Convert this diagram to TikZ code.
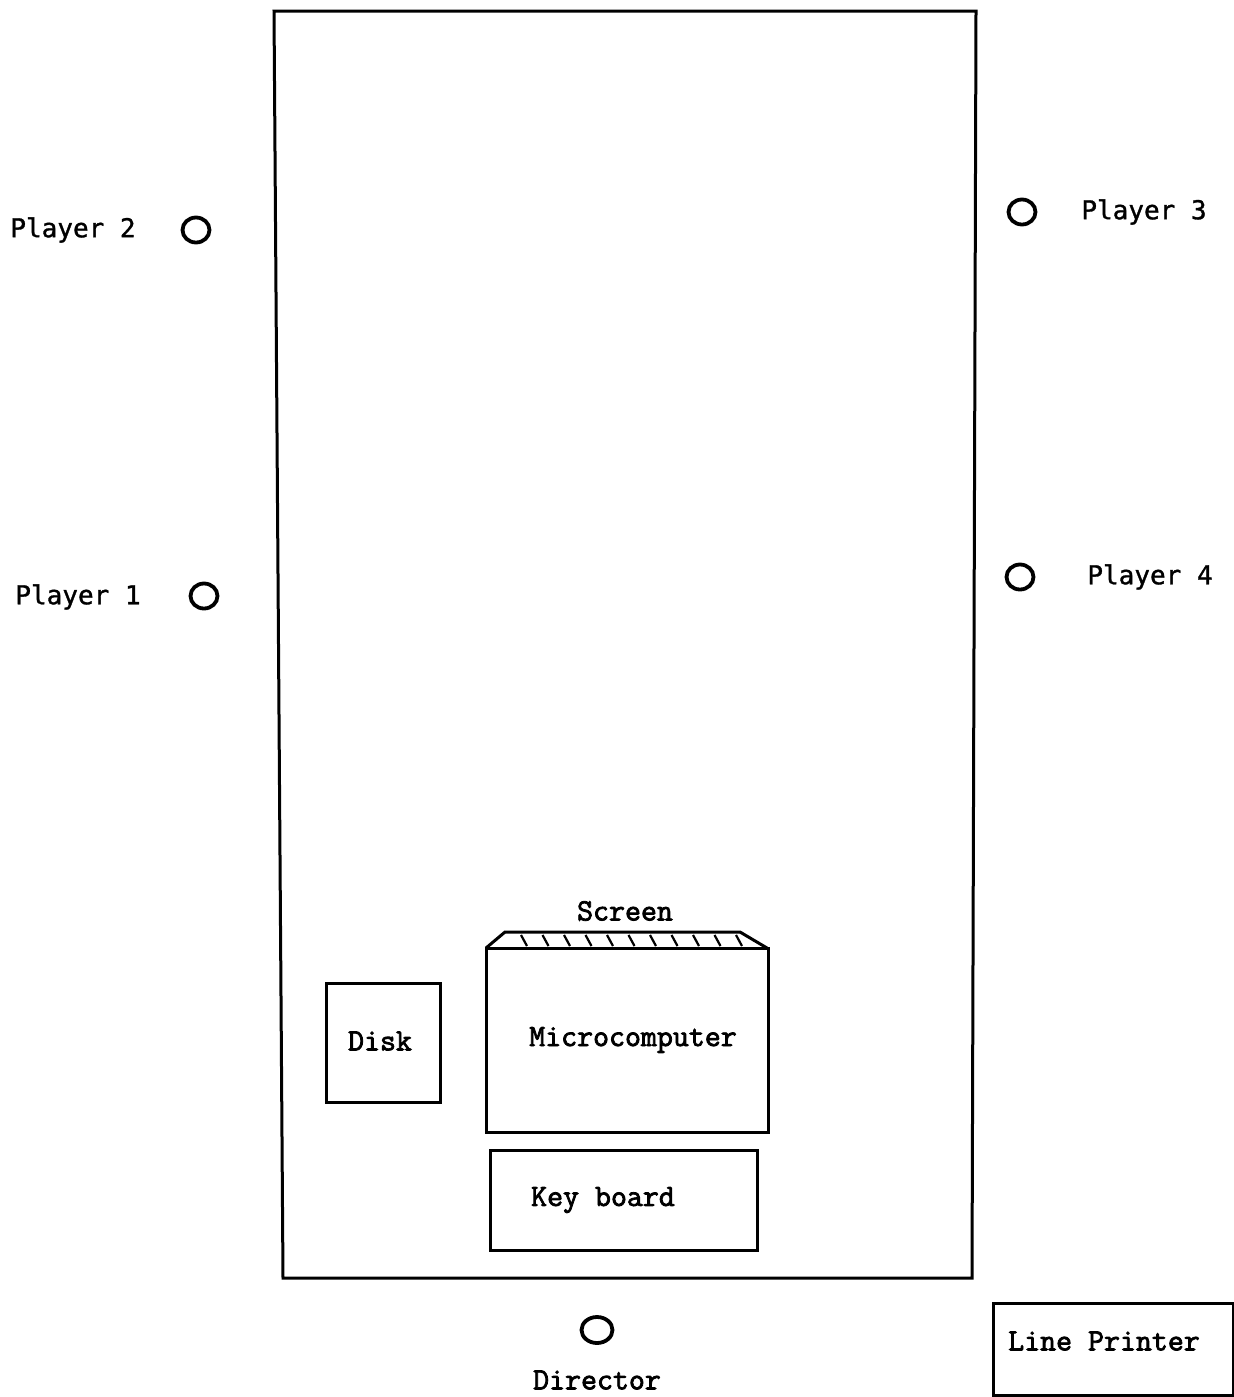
\documentclass[tikz,border=0pt]{standalone}
\usepackage{fontspec}
\usetikzlibrary{shapes.geometric}
\newfontfamily\labelsans{DejaVu Sans Mono}[FakeBold=1.2]
\newfontfamily\labelslab{Latin Modern Mono}[FakeBold=2.5]
\begin{document}
\begin{tikzpicture}[x=0.5pt,y=-0.5pt,
  outline/.style={draw=black,line width=1.5pt},
  seat/.style={ellipse,draw=black,line width=1.9pt,minimum width=13.5pt,minimum height=12.5pt,inner sep=0pt},
  playerlbl/.style={font=\labelsans\fontsize{13}{15}\selectfont,anchor=west,inner sep=0pt},
  unitlbl/.style={font=\labelslab\fontsize{15.5}{18}\selectfont,inner sep=0pt}]
\useasboundingbox (0,0) rectangle (1234,1397);
% table
\draw[outline] (274,11) -- (976,11) -- (972,1278) -- (283,1278) -- cycle;
% players
\node[seat] (p2) at (196,230) {};
\node[playerlbl] (p2l) at (10,230) {Player 2};
\node[seat] (p1) at (204,596) {};
\node[playerlbl] (p1l) at (15,597) {Player 1};
\node[seat] (p3) at (1022,212) {};
\node[playerlbl] (p3l) at (1081,212) {Player 3};
\node[seat] (p4) at (1020,577) {};
\node[playerlbl] (p4l) at (1087,577) {Player 4};
% director
\node[seat,minimum width=15.5pt,minimum height=13pt] (dir) at (597,1330) {};
\node[unitlbl] (dirl) at (597,1380) {Director};
% computer with its screen
\draw[outline] (486,948) rectangle (768,1132);
\node[unitlbl] (mc) at (633,1040) {Microcomputer};
\draw[outline] (486,948) -- (505,932) -- (740,932) -- (767,948);
\foreach \i in {0,...,10}
  \draw[line width=1.1pt] ({521+\i*21.5},935) -- ({527+\i*21.5},946);
\node[unitlbl] (scr) at (625,911) {Screen};
% disk
\draw[outline] (326,983) rectangle (440,1102);
\node[unitlbl] (disk) at (380,1041) {Disk};
% keyboard
\draw[outline] (490,1150) rectangle (757,1250);
\node[unitlbl] (kb) at (603,1200) {Key board};
% line printer
\draw[outline] (993,1303) rectangle (1233,1395);
\node[unitlbl] (lp) at (1104,1341) {Line Printer};
\end{tikzpicture}
\end{document}
